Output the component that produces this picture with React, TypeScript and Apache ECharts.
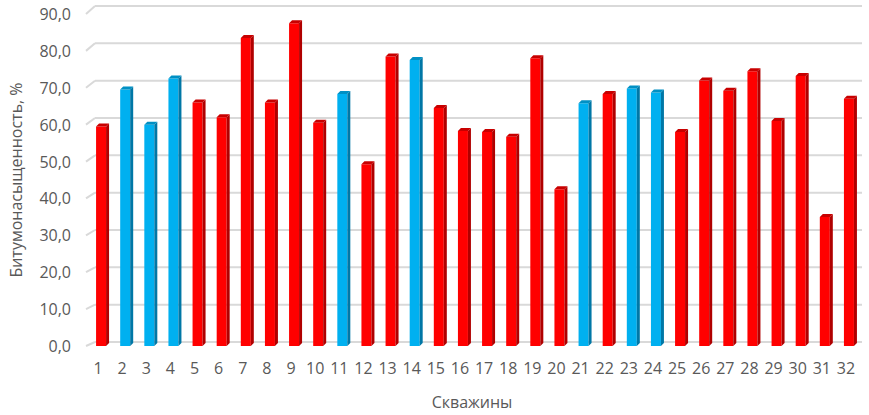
import React, { useEffect, useRef } from "react";
import * as echarts from "echarts";

const categories = Array.from({ length: 32 }, (_, i) => String(i + 1));
const values = [59.5, 69.5, 60, 72.5, 66, 62, 83.5, 66, 87.5, 60.5, 68.3, 49.3, 78.5, 77.5, 64.5, 58.3, 58, 56.7, 78, 42.5, 65.8, 68.3, 69.8, 68.7, 58, 72, 69.2, 74.5, 61, 73.2, 35, 67];
// 1 = blue well, 0 = red well
const groups = [0, 1, 1, 1, 0, 0, 0, 0, 0, 0, 1, 0, 0, 1, 0, 0, 0, 0, 0, 0, 1, 0, 1, 1, 0, 0, 0, 0, 0, 0, 0, 0];
const yTicks = [0, 10, 20, 30, 40, 50, 60, 70, 80, 90];

const PALETTE = [
  { front: "#FF0000", side: "#B00000", top: "#C80000" },
  { front: "#00B0F0", side: "#0077A6", top: "#0090C4" },
];

export default function App() {
  const ref = useRef<HTMLDivElement>(null);
  useEffect(() => {
    if (!ref.current) return;
    const chart = echarts.init(ref.current, null, { renderer: "svg" });
    const font = "'Open Sans', sans-serif";
    chart.setOption({
      animation: false,
      grid: { left: 77, right: 11, top: 14, bottom: 63, containLabel: false },
      xAxis: {
        type: "category",
        data: categories,
        axisLine: { show: false },
        axisTick: { show: false },
        axisLabel: { interval: 0, fontFamily: font, fontSize: 16, color: "#595959", margin: 14 },
        name: "Скважины",
        nameLocation: "middle",
        nameGap: 48,
        nameTextStyle: { fontFamily: font, fontSize: 16, color: "#595959" },
      },
      yAxis: {
        type: "value",
        min: 0,
        max: 90,
        interval: 10,
        axisLine: { show: false },
        axisTick: { show: false },
        splitLine: { show: false },
        axisLabel: {
          fontFamily: font,
          fontSize: 16,
          color: "#595959",
          margin: 15,
          formatter: (v: number) => v.toFixed(1).replace(".", ","),
        },
        name: "Битумонасыщенность, %",
        nameLocation: "middle",
        nameRotate: 90,
        nameGap: 62,
        nameTextStyle: { fontFamily: font, fontSize: 16, color: "#595959" },
      },
      series: [
        {
          type: "custom",
          z: 1,
          silent: true,
          data: yTicks.map((v) => [0, v]),
          encode: { x: 0, y: 1 },
          renderItem: (params: any, api: any) => {
            const v = api.value(1);
            const c = api.coord([0, v]);
            const cs = params.coordSys;
            const drop = 4 + (v / 90) * 4;
            const y = c[1];
            const yb = y - drop;
            const left = cs.x;
            const right = cs.x + cs.width + 4;
            return {
              type: "group",
              children: [
                { type: "line", shape: { x1: left + 9, y1: yb, x2: right, y2: yb }, style: { stroke: "#D9D9D9", lineWidth: 2 } },
                { type: "line", shape: { x1: left, y1: y, x2: left + 9, y2: yb }, style: { stroke: "#D9D9D9", lineWidth: 2 } },
              ],
            };
          },
        },
        {
          type: "custom",
          z: 2,
          data: values.map((v, i) => [i, v, groups[i]]),
          encode: { x: 0, y: 1 },
          renderItem: (params: any, api: any) => {
            const i = api.value(0);
            const v = api.value(1);
            const g = api.value(2);
            const col = PALETTE[g] || PALETTE[0];
            const top = api.coord([i, v]);
            const bot = api.coord([i, 0]);
            const w = 10;
            const d = 3;
            const x0 = top[0] - 2;
            const x1 = x0 + w;
            const yt = top[1];
            const yb = bot[1];
            return {
              type: "group",
              children: [
                { type: "rect", shape: { x: x0, y: yt, width: w, height: yb - yt }, style: { fill: col.front } },
                { type: "polygon", shape: { points: [[x1, yt], [x1 + d, yt - d], [x1 + d, yb - d], [x1, yb]] }, style: { fill: col.side } },
                { type: "polygon", shape: { points: [[x0, yt], [x0 + d, yt - d], [x1 + d, yt - d], [x1, yt]] }, style: { fill: col.top } },
              ],
            };
          },
        },
      ],
    });
    return () => chart.dispose();
  }, []);
  return <div ref={ref} style={{ position: "absolute", left: 0, top: 0, width: 869, height: 415 }} />;
}
